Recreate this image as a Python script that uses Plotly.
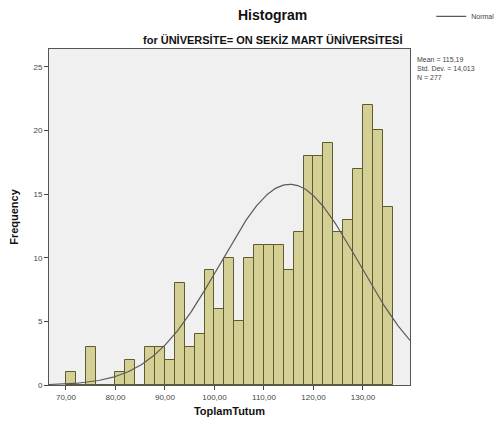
import numpy as np
import plotly.graph_objects as go

# Histogram bins (left edges, width 2) and frequencies
bin_left = [70, 72, 74, 76, 78, 80, 82, 84, 86, 88, 90, 92, 94, 96, 98,
            100, 102, 104, 106, 108, 110, 112, 114, 116, 118, 120, 122,
            124, 126, 128, 130, 132, 134]
freq = [1, 0, 3, 0, 0, 1, 2, 0, 3, 3, 2, 8, 3, 4, 9,
        6, 10, 5, 10, 11, 11, 11, 9, 12, 18, 18, 19,
        12, 13, 17, 22, 20, 14]
bin_width = 2
mean_val = 115.19
sd_val = 14.013
n_val = 277
stats_lines = ["Mean = 115,19", "Std. Dev. = 14,013", "N = 277"]

x_tick_vals = [70, 80, 90, 100, 110, 120, 130]
x_tick_text = ["70,00", "80,00", "90,00", "100,00", "110,00", "120,00", "130,00"]
y_tick_vals = [0, 5, 10, 15, 20, 25]

x_range = [66.57, 139.5]
y_range = [0, 26.4]

centers = [b + bin_width / 2 for b in bin_left]

xs = np.linspace(x_range[0], x_range[1], 300)
ys = n_val * bin_width / (sd_val * np.sqrt(2 * np.pi)) * np.exp(-0.5 * ((xs - mean_val) / sd_val) ** 2)

font_fam = "Liberation Sans, Arial, sans-serif"

fig = go.Figure()
fig.add_trace(go.Bar(
    x=centers, y=freq, width=bin_width,
    marker=dict(color="#d4cf94", line=dict(color="#5e5c2c", width=1)),
    showlegend=False,
))
fig.add_trace(go.Scatter(
    x=xs, y=ys, mode="lines", name="Normal",
    line=dict(color="#5a5a5a", width=1.2),
    showlegend=True,
))

fig.update_layout(
    width=498, height=430,
    margin=dict(l=49, r=88, t=49, b=45, autoexpand=False),
    paper_bgcolor="white",
    plot_bgcolor="#f0f0f0",
    font=dict(family=font_fam, size=8, color="#333333"),
    bargap=0,
    legend=dict(x=1.25, y=1.097, xanchor="right", yanchor="middle",
                bgcolor="rgba(0,0,0,0)", font=dict(size=7, color="#444"),
                itemwidth=30, borderwidth=0, tracegroupgap=0),
    xaxis=dict(range=x_range, tickvals=x_tick_vals, ticktext=x_tick_text,
               showgrid=False, zeroline=False, ticks="outside", ticklen=4,
               tickcolor="#444", showline=True, linecolor="#555", linewidth=1,
               mirror=True, tickfont=dict(size=8, color="#444"),
               title=dict(text="<b>ToplamTutum</b>", font=dict(size=11, color="#111"),
                          standoff=6)),
    yaxis=dict(range=y_range, tickvals=y_tick_vals,
               showgrid=False, zeroline=False, ticks="outside", ticklen=4,
               tickcolor="#444", showline=True, linecolor="#555", linewidth=1,
               mirror=True, tickfont=dict(size=8, color="#444"),
               title=dict(text="<b>Frequency</b>", font=dict(size=11, color="#111"),
                          standoff=12)),
)

fig.add_annotation(text="<b>Histogram</b>", xref="paper", yref="paper",
                   x=0.62, y=1.0, yanchor="bottom", yshift=24, showarrow=False,
                   font=dict(size=14, color="#111"))
fig.add_annotation(text="<b>for ÜNİVERSİTE= ON SEKİZ MART ÜNİVERSİTESİ</b>",
                   xref="paper", yref="paper", x=0.62, y=1.0, yanchor="bottom",
                   yshift=1, showarrow=False, font=dict(size=11, color="#111"))
fig.add_annotation(text="<br>".join(stats_lines),
                   xref="paper", yref="paper", x=1.0, y=0.985, xanchor="left",
                   yanchor="top", xshift=5, showarrow=False, align="left",
                   font=dict(size=7, color="#444"))

fig.write_html("out.html")
